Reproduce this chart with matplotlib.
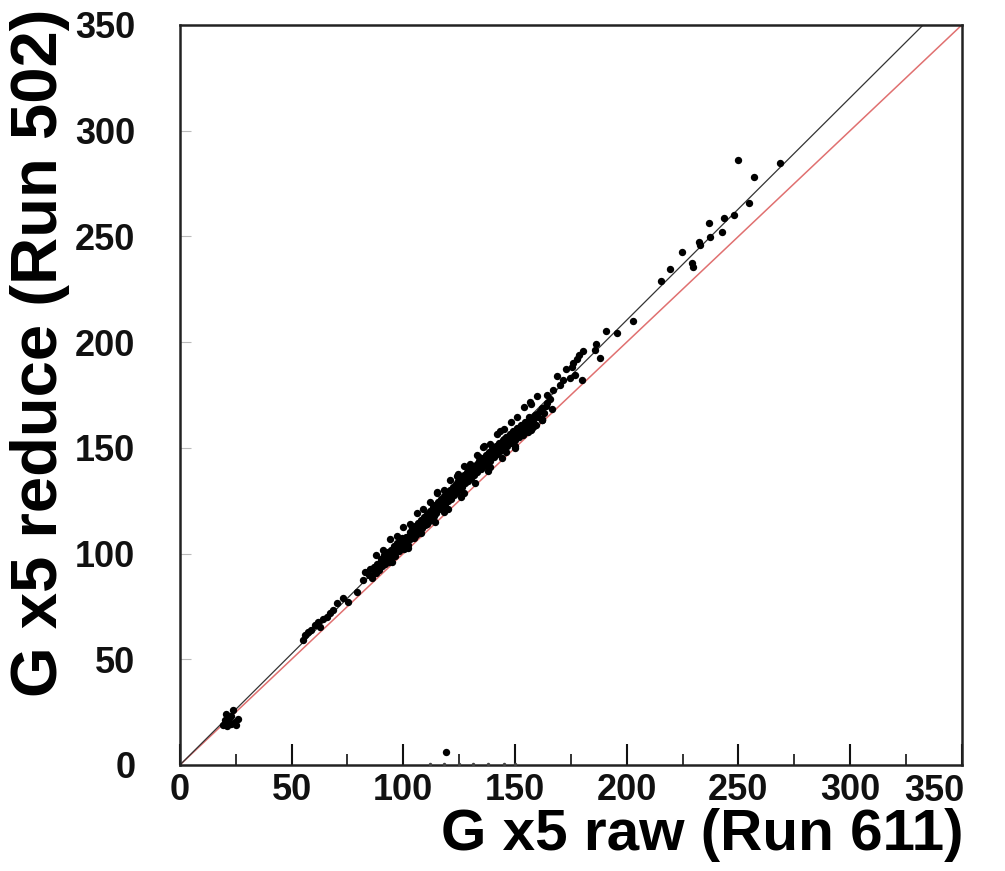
import matplotlib.pyplot as plt
from matplotlib.ticker import MultipleLocator, FixedFormatter

plt.rcParams["font.family"] = ["Liberation Sans", "DejaVu Sans"]

# points: raw (Run 611) vs reduce (Run 502)
low_x = [19.5, 20.3, 21.0, 21.8, 22.4, 23.0, 23.7, 24.5, 25.2, 25.8, 20.8, 22.9]
low_y = [19.0, 21.2, 18.6, 22.4, 19.8, 23.1, 26.0, 20.5, 18.9, 21.7, 24.0, 19.3]

mid_x = [55.0, 56.0, 57.3, 58.5, 60.4, 61.8, 62.7, 64.2, 65.8, 67.1, 68.6, 70.3, 73.0, 75.4, 79.2, 81.9, 82.8]
mid_y = [59.1, 61.5, 62.9, 64.0, 66.2, 67.6, 65.3, 69.1, 70.0, 71.9, 73.5, 76.6, 79.0, 77.2, 81.8, 87.5, 91.3]

band_x = [
    84.5, 85.8, 86.9, 87.4, 88.3, 89.1, 89.8, 90.5, 91.2, 91.9, 92.6, 93.3, 93.8, 94.5, 95.1,
    95.7, 96.2, 96.8, 97.3, 97.9, 98.4, 98.9, 99.5, 100.0, 100.5, 101.0, 101.4, 101.9, 102.3,
    102.8, 103.2, 103.7, 104.1, 104.6, 105.0, 105.4, 105.9, 106.3, 106.7, 107.2, 107.6, 108.0,
    108.5, 108.9, 109.3, 109.7, 110.2, 110.6, 111.0, 111.4, 111.9, 112.3, 112.7, 113.1, 113.6,
    114.0, 114.4, 114.8, 115.3, 115.7, 116.1, 116.5, 117.0, 117.4, 117.8, 118.2, 118.7, 119.1,
    119.5, 120.0, 120.4, 120.8, 121.3, 121.7, 122.1, 122.6, 123.0, 123.4, 123.9, 124.3, 124.7,
    125.2, 125.6, 126.0, 126.5, 126.9, 127.3, 127.8, 128.2, 128.7, 129.1, 129.6, 130.0, 130.5,
    130.9, 131.4, 131.8, 132.3, 132.8, 133.2, 133.7, 134.1, 134.6, 135.1, 135.6, 136.0, 136.5,
    137.0, 137.5, 137.9, 138.4, 138.9, 139.4, 139.9, 140.4, 140.9, 141.4, 141.9, 142.4, 142.9,
    143.4, 143.9, 144.5, 145.0, 145.5, 146.0, 146.6, 147.1, 147.7, 148.2, 148.8, 149.3, 149.9,
    150.5, 151.1, 151.6, 152.2, 152.8, 153.5, 154.1, 154.7, 155.4, 156.0, 156.7, 157.4, 158.1,
    158.8, 159.5, 160.3, 161.1, 161.9, 162.8, 163.7,
    85.2, 88.0, 90.0, 92.0, 94.0, 96.0, 98.0, 99.7, 101.6, 103.4, 105.2, 106.9, 108.7, 110.4,
    112.1, 113.8, 115.5, 117.2, 118.9, 120.6, 122.3, 124.0, 125.8, 127.5, 129.3, 131.0, 132.6,
    134.3, 136.2, 138.0, 139.7, 141.5, 143.2, 145.2, 147.0, 148.9, 150.8, 152.6, 154.4, 156.3,
    158.3, 160.0, 162.0, 164.5, 165.8, 166.5,
    150.0, 139.0, 127.0, 146.0, 118.0, 157.0, 162.0, 134.0, 156.7, 135.6, 115.0, 143.5, 124.5,
    88.0, 91.0, 94.0, 97.0, 100.0, 103.0, 106.0, 109.0, 112.0, 115.0, 118.0, 121.0, 124.0,
    127.0, 130.0, 133.0, 136.0, 139.0, 142.0, 145.0, 148.0, 151.0, 154.0, 157.0, 160.0,
    95.0, 102.0, 108.0, 114.0, 120.0, 126.0, 132.0, 138.0, 144.0, 150.0, 156.0, 162.0,
]
band_y = [
    90.1, 88.6, 93.8, 91.0, 95.2, 92.4, 97.6, 94.0, 99.1, 95.3, 97.8, 100.9, 96.2, 101.7, 99.0,
    103.4, 98.8, 102.5, 104.9, 101.1, 105.6, 103.0, 107.2, 104.1, 102.3, 108.0, 105.5, 107.9, 104.0,
    110.1, 106.9, 108.6, 111.9, 107.3, 110.4, 113.2, 109.0, 112.1, 114.6, 110.5, 113.8, 116.0,
    111.9, 114.7, 117.4, 113.3, 116.3, 118.9, 115.0, 117.6, 120.2, 116.1, 119.3, 121.8, 117.6,
    120.6, 123.1, 119.4, 121.9, 124.5, 120.9, 123.6, 125.8, 122.0, 124.7, 127.2, 123.4, 126.2,
    128.9, 124.9, 127.5, 130.0, 126.0, 129.1, 131.3, 127.7, 130.2, 132.9, 129.0, 131.8, 134.2,
    130.4, 133.1, 135.7, 131.6, 134.6, 137.0, 133.2, 135.9, 138.4, 134.5, 137.4, 139.8, 135.8,
    138.7, 141.2, 137.3, 140.2, 142.5, 138.6, 141.5, 143.9, 140.0, 142.9, 145.4, 141.4, 144.3,
    146.6, 142.8, 145.6, 148.1, 144.0, 147.2, 149.5, 145.6, 148.4, 150.9, 146.9, 149.8, 152.3,
    148.3, 151.4, 153.8, 149.7, 152.6, 155.3, 151.1, 154.2, 156.4, 152.4, 155.6, 158.2, 153.7,
    157.0, 159.3, 155.2, 158.4, 160.6, 156.3, 159.8, 162.1, 157.9, 161.3, 163.6, 159.2, 162.6,
    165.5, 161.0, 164.7, 167.5, 163.0, 166.6, 169.8,
    92.5, 90.8, 96.1, 98.9, 99.3, 100.5, 103.8, 105.0, 106.3, 109.2, 111.6, 112.7, 115.2, 114.1,
    118.2, 119.8, 123.0, 123.9, 125.0, 126.4, 129.9, 133.1, 132.2, 135.4, 136.1, 140.4, 139.2,
    142.0, 143.1, 146.9, 147.9, 148.2, 150.5, 154.0, 155.1, 157.3, 158.0, 157.6, 161.0, 164.8,
    160.4, 166.2, 168.9, 171.2, 173.0, 168.3,
    150.1, 141.0, 128.5, 148.0, 119.5, 158.6, 163.6, 145.5, 171.7, 150.4, 129.1, 158.0, 137.6,
    99.4, 101.6, 106.7, 108.4, 112.5, 114.2, 119.3, 121.0, 124.6, 128.8, 129.9, 134.6, 136.7,
    141.4, 142.5, 146.7, 150.8, 152.0, 156.6, 158.8, 162.4, 164.6, 169.2, 170.9, 174.5,
    96.0, 102.8, 109.5, 114.8, 121.2, 126.9, 133.5, 139.0, 145.2, 150.8, 157.5, 163.0,
]

upper_x = [164.3, 167.0, 168.7, 170.1, 171.4, 172.8, 174.6, 175.5, 175.9, 176.8, 177.7, 178.6,
           179.9, 180.4, 185.8, 186.2, 188.0, 190.7, 195.6, 202.8,
           215.3, 219.3, 224.7, 229.2, 229.6, 232.3, 232.8, 236.8, 237.2, 242.6, 243.5, 248.0,
           249.8, 254.7, 256.9, 268.6]
upper_y = [175.0, 177.4, 184.0, 179.7, 182.1, 187.3, 183.0, 188.3, 190.1, 184.5, 192.0, 193.9,
           182.1, 195.8, 196.3, 199.1, 192.5, 205.3, 204.3, 210.0,
           228.9, 234.6, 242.6, 237.4, 235.5, 247.4, 246.0, 256.4, 249.7, 252.1, 258.7, 260.2,
           286.2, 265.8, 278.1, 284.7]

stray_x = [119.1]
stray_y = [6.1]
floor_x = [112.0, 118.0, 125.0, 131.0, 138.0, 145.0, 150.0]
floor_y = [0.4, 0.3, 0.4, 0.3, 0.4, 0.3, 0.5]

TICKS = [0, 50, 100, 150, 200, 250, 300, 350]
TICK_LABELS = ["0", "50", "100", "150", "200", "250", "300", "350"]

FIT_SLOPE = 1.052
LINE_X = [0, 350]

fig = plt.figure(figsize=(10.05, 8.71), dpi=100)
ax = fig.add_axes([0.179, 0.1217, 0.778, 0.8496])

for xs, ys in [(low_x, low_y), (mid_x, mid_y), (band_x, band_y),
               (upper_x, upper_y), (stray_x, stray_y)]:
    ax.plot(xs, ys, "o", color="black", markersize=5.3, markeredgewidth=0, zorder=3)
ax.plot(floor_x, floor_y, "o", color="#444444", markersize=2.5, markeredgewidth=0, zorder=3)

ax.plot(LINE_X, LINE_X, color="#e07070", linewidth=1.1, zorder=2)
ax.plot(LINE_X, [v * FIT_SLOPE for v in LINE_X], color="#333333", linewidth=0.9, zorder=2)

ax.set_xlim(0, 350)
ax.set_ylim(0, 350)
ax.set_xticks(TICKS)
# last x label is drawn separately, right-aligned with the frame (ROOT style)
ax.xaxis.set_major_formatter(FixedFormatter(TICK_LABELS[:-1] + [""]))
ax.xaxis.set_minor_locator(MultipleLocator(25))
ax.set_yticks(TICKS)
ax.set_yticklabels(TICK_LABELS)

for s in ax.spines.values():
    s.set_linewidth(1.8)
    s.set_color("#222222")

ax.tick_params(axis="x", which="major", direction="in", length=15, width=1.5,
               labelsize=26, pad=6, colors="#111111")
ax.tick_params(axis="x", which="minor", direction="in", length=8, width=1.2, colors="#111111")
ax.tick_params(axis="y", which="major", direction="in", length=8, width=0.8,
               labelsize=26, pad=32, color="#bbbbbb", labelcolor="#111111")
for lab in ax.get_xticklabels() + ax.get_yticklabels():
    lab.set_fontweight("bold")

ax.text(1.003, -0.012, TICK_LABELS[-1], transform=ax.transAxes, ha="right", va="top",
        fontsize=26, fontweight="bold", color="#111111")

fig.text(0.959, 0.041, "G x5 raw (Run 611)", ha="right", va="center",
         fontsize=42, fontweight="bold")
fig.text(0.040, 0.990, "G x5 reduce (Run 502)", ha="center", va="top",
         rotation=90, fontsize=47, fontweight="bold")

fig.savefig("out.png", dpi=100, facecolor="white")
